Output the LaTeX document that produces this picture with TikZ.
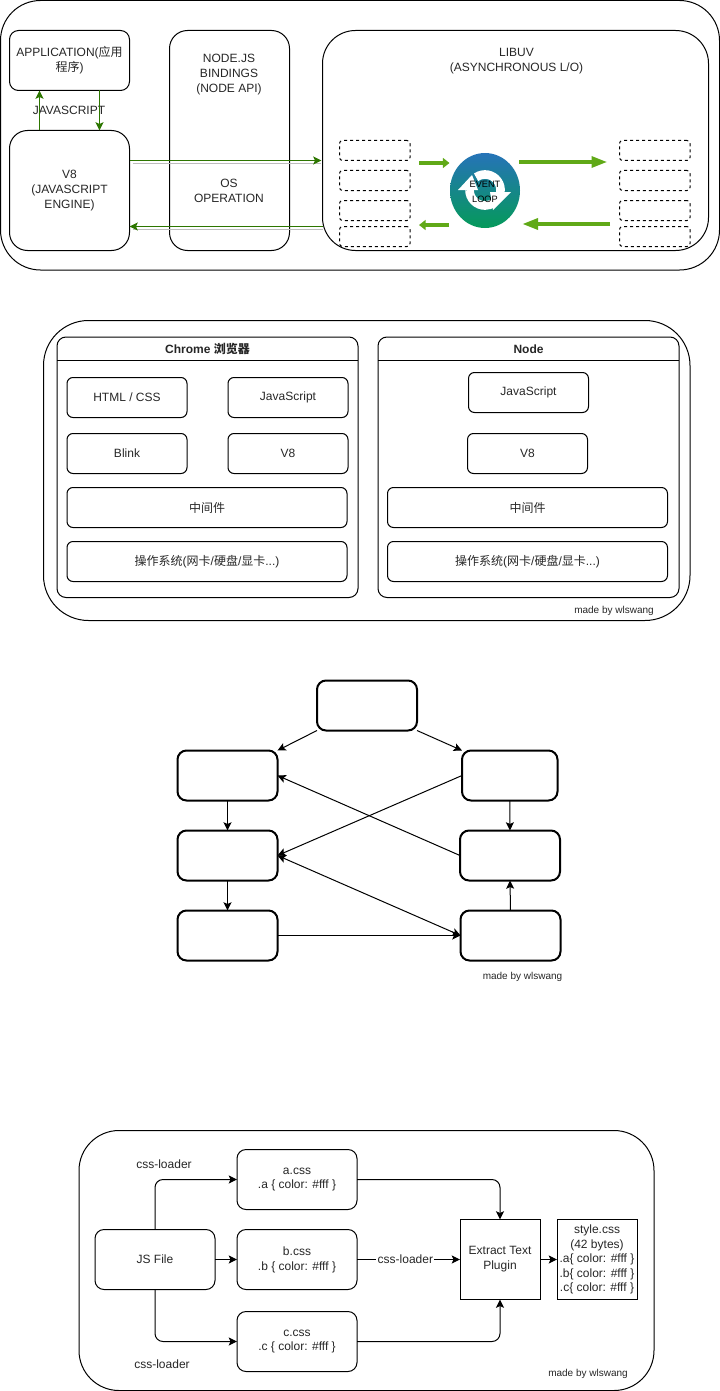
\documentclass[tikz,border=0pt]{standalone}
\usepackage{fontspec}
\setmainfont{Liberation Sans}
\newfontfamily\cjk{Noto Sans CJK SC}
\usetikzlibrary{arrows.meta,calc}
\definecolor{txt}{HTML}{262626}
\definecolor{gdark}{HTML}{2D7600}
\definecolor{gfill}{HTML}{60A917}
\definecolor{shade}{HTML}{BDBDBD}
\definecolor{looptop}{HTML}{2673B8}
\definecolor{loopbot}{HTML}{059A5A}
\newcommand{\cj}[1]{{\cjk #1}}
% \bx[style]{name}{x1}{y1}{x2}{y2}{text}
\newcommand{\bx}[7][]{\node[base,#1,minimum width={(#5-#3)*0.75pt},minimum height={(#6-#4)*0.75pt},at={({(#3+#5)/2},{(#4+#6)/2})}] (#2) {#7};}
\tikzset{
  base/.style={draw=black,line width=0.75pt,inner sep=0pt,outer sep=0pt,align=center,text=txt,
    font=\fontsize{9pt}{11.2pt}\selectfont},
  r9/.style={rounded corners=6.75pt},
  r6/.style={rounded corners=4.5pt},
  r18/.style={rounded corners=13.5pt},
  r33/.style={rounded corners=24.75pt},
  r40/.style={rounded corners=30pt},
  r45/.style={rounded corners=33.75pt},
  dbox/.style={rounded corners=2.25pt,dash pattern=on 2.25pt off 2.25pt},
  heavy/.style={line width=1.5pt,r9},
  label/.style={text=txt,inner sep=0pt,align=center,font=\fontsize{9pt}{11pt}\selectfont},
  credit/.style={text=txt,inner sep=0pt,font=\fontsize{7.5pt}{9pt}\selectfont},
  conn/.style={line width=0.75pt,draw=black,-{Stealth[length=6.2pt,width=6pt,inset=1.3pt]}},
  bothconn/.style={line width=0.75pt,draw=black,{Stealth[length=6.2pt,width=6pt,inset=1.3pt]}-{Stealth[length=6.2pt,width=6pt,inset=1.3pt]}},
  gconn/.style={line width=0.75pt,draw=gdark,-{Stealth[length=6.2pt,width=6pt,inset=1.3pt]}},
  gshadow/.style={line width=0.75pt,draw=shade},
  blockarrow/.style={line width=2.9pt,draw=gfill,-{Stealth[length=5pt,width=7.5pt,inset=0pt]}},
  blockarrowb/.style={line width=2.9pt,draw=gfill,-{Stealth[length=12pt,width=8pt,inset=0pt]}},
}
\begin{document}
\begin{tikzpicture}[x=0.75pt,y=-0.75pt]
\useasboundingbox (0,0) rectangle (720,1391);
% ---------- section 1
\bx[r40]{outerA}{0.5}{0.5}{719.5}{270}{}
\bx[r9]{app}{9.5}{30.5}{129.5}{90.5}{APPLICATION(\cj{应用}\\\cj{程序})}
\bx[r18]{veight}{9.5}{130.5}{129.5}{250.5}{V8\\(JAVASCRIPT\\ENGINE)}
\bx[r18]{bindings}{169.5}{30.5}{289.5}{250.5}{}
\bx[r33]{libuv}{322.5}{30.5}{708.5}{250.5}{}
\node[label] (bindtext) at (229,74.5) {NODE.JS\\BINDINGS\\(NODE API)};
\node[label] (ostext) at (229,191) {OS\\OPERATION};
\node[label] (libuvtext) at (516.5,61) {LIBUV\\(ASYNCHRONOUS L/O)};
\node[label] (jslabel) at (69,110) {JAVASCRIPT};
\draw[gconn] (veight.north -| 39.5,0) -- (app.south -| 39.5,0);
\draw[gconn] (app.south -| 99.5,0) -- (veight.north -| 99.5,0);
\draw[gshadow] ($(veight.east |- 0,163.5)+(3,0)$) -- ($(libuv.west |- 0,163.5)+(-2,0)$);
\draw[gconn] (veight.east |- 0,160.5) -- ($(libuv.west |- 0,160.5)+(-1,0)$);
\draw[gshadow] ($(veight.east |- 0,229.5)+(3,0)$) -- (libuv.west |- 0,229.5);
\draw[gconn] (libuv.west |- 0,226.5) -- (veight.east |- 0,226.5);
\bx[dbox]{la}{339.5}{140.5}{410}{160.5}{}
\bx[dbox]{lb}{339.5}{170.5}{410}{190.5}{}
\bx[dbox]{lc}{339.5}{200.5}{410}{220.5}{}
\bx[dbox]{ld}{339.5}{226.5}{410}{246.5}{}
\bx[dbox]{ra}{619.5}{140.5}{690}{160.5}{}
\bx[dbox]{rb}{619.5}{170.5}{690}{190.5}{}
\bx[dbox]{rc}{619.5}{200.5}{690}{220.5}{}
\bx[dbox]{rd}{619.5}{226.5}{690}{246.5}{}
\coordinate (a1s) at (419,163);\coordinate (a1e) at (449.5,163);
\coordinate (a2s) at (519,162);\coordinate (a2e) at (607.5,162);
\coordinate (a3s) at (610,224);\coordinate (a3e) at (522,224);
\coordinate (a4s) at (449,225);\coordinate (a4e) at (419,225);
\draw[blockarrow] (a1s) -- (a1e);
\draw[blockarrowb] (a2s) -- (a2e);
\draw[blockarrowb] (a3s) -- (a3e);
\draw[blockarrow] (a4s) -- (a4e);
\shade[top color=looptop,bottom color=loopbot] (485,190.5) ellipse (35 and 37.5);
\draw[white,line width=6.5pt] (485,190)+(-125:15.5) arc[start angle=-125,end angle=8,radius=15.5];
\draw[white,line width=6.5pt] (485,190)+(180:15.5) arc[start angle=180,end angle=55,radius=15.5];
\fill[white] (472,175) -- (458,190) -- (478,190) -- cycle;
\fill[white] (493,210) -- (490,192) -- (511,192) -- cycle;
\node[inner sep=0pt,align=center,text=black,font=\fontsize{6.9pt}{10.7pt}\selectfont] (evtext) at (485,192) {EVENT\\LOOP};
% ---------- section 2
\bx[r45]{outerB}{43.5}{320.5}{690}{620.5}{}
\bx[r9]{chrome}{57}{337}{358}{597.5}{}
\bx[r9]{nodelane}{378}{337}{679}{597.5}{}
\draw[line width=0.75pt] (chrome.west |- 0,360.5) -- (chrome.east |- 0,360.5);
\draw[line width=0.75pt] (nodelane.west |- 0,360.5) -- (nodelane.east |- 0,360.5);
\node[label,font=\fontsize{9pt}{11pt}\selectfont\bfseries] (chrometitle) at (207.5,349) {Chrome \cj{浏览器}};
\node[label,font=\fontsize{9pt}{11pt}\selectfont\bfseries] (nodetitle) at (528.5,349.5) {Node};
\bx[r6]{html}{67}{377.5}{187}{417.5}{HTML / CSS}
\bx[r6]{jsc}{228}{377.5}{348}{417.5}{JavaScript}
\bx[r6]{blink}{67}{433.5}{187}{473.5}{Blink}
\bx[r6]{veightc}{228}{433.5}{348}{473.5}{V8}
\bx[r6]{midc}{67}{487.5}{347}{527.5}{\cj{中间件}}
\bx[r6]{osc}{67}{541.5}{347}{581.5}{\cj{操作系统}(\cj{网卡}/\cj{硬盘}/\cj{显卡}...)}
\bx[r6]{jsn}{468.5}{372.5}{588.5}{412.5}{JavaScript}
\bx[r6]{veightn}{467.5}{433.5}{587.5}{473.5}{V8}
\bx[r6]{midn}{387.5}{487.5}{667.5}{527.5}{\cj{中间件}}
\bx[r6]{osn}{387.5}{541.5}{667.5}{581.5}{\cj{操作系统}(\cj{网卡}/\cj{硬盘}/\cj{显卡}...)}
\node[credit] (creditB) at (614,610.5) {made by wlswang};
% ---------- section 3
\bx[heavy]{top}{317}{680.5}{417}{730.5}{}
\bx[heavy]{lone}{177.5}{750.5}{277.5}{800.5}{}
\bx[heavy]{ltwo}{177.5}{830.5}{277.5}{880.5}{}
\bx[heavy]{lthree}{177.5}{910.5}{277.5}{960.5}{}
\bx[heavy]{rone}{462}{750.5}{557.5}{800.5}{}
\bx[heavy]{rtwo}{460}{830.5}{560}{880.5}{}
\bx[heavy]{rthree}{460.5}{910.5}{560.5}{960.5}{}
\draw[conn] (top.south west) -- (lone.north east);
\draw[conn] (top.south east) -- (rone.north west);
\draw[conn] (lone) -- (ltwo);
\draw[conn] (ltwo) -- (lthree);
\draw[conn] (lthree) -- (rthree);
\draw[conn] (rone) -- (rtwo);
\draw[conn] (rthree.north) -- (rtwo.south);
\draw[conn] (rone.west) -- (ltwo.east);
\draw[conn] (rtwo.west) -- (lone.east);
\draw[bothconn] (ltwo.east) -- (rthree.west);
\node[credit] (creditC) at (522.5,977) {made by wlswang};
% ---------- section 4
\bx[r40]{outerD}{79}{1130.5}{654}{1390.5}{}
\bx[r9]{acss}{237}{1149.5}{357}{1209.5}{a.css\\.a \{ color: \#fff \}}
\bx[r9]{bcss}{237}{1229.5}{357}{1289.5}{b.css\\.b \{ color: \#fff \}}
\bx[r9]{ccss}{237}{1311.5}{357}{1371.5}{c.css\\.c \{ color: \#fff \}}
\bx[r9]{jsfile}{95}{1229.5}{215}{1289.5}{JS File}
\bx{extract}{460}{1219.5}{540}{1299.5}{Extract Text\\Plugin}
\bx[font=\fontsize{9pt}{10.8pt}\selectfont]{stylecss}{557}{1219.5}{637}{1299.5}{style.css\\(42 bytes)\\.a\{ color: \#fff \}\\.b\{ color: \#fff \}\\.c\{ color: \#fff \}}
\draw[conn,rounded corners=6pt] (jsfile.north) |- (acss.west);
\draw[conn,rounded corners=6pt] (jsfile.south) |- (ccss.west);
\draw[conn] (jsfile) -- (bcss);
\draw[conn,rounded corners=6pt] (acss.east) -| (extract.north);
\draw[conn,rounded corners=6pt] (ccss.east) -| (extract.south);
\draw[conn] (bcss) -- node[label,pos=0.47,fill=white,inner xsep=1pt,inner ysep=1pt] (cssl) {css-loader} (extract);
\draw[conn] (extract) -- (stylecss);
\node[label] (cssa) at (164,1164) {css-loader};
\node[label] (cssc) at (162,1364) {css-loader};
\node[credit] (creditD) at (588,1374) {made by wlswang};
\end{tikzpicture}
\end{document}
